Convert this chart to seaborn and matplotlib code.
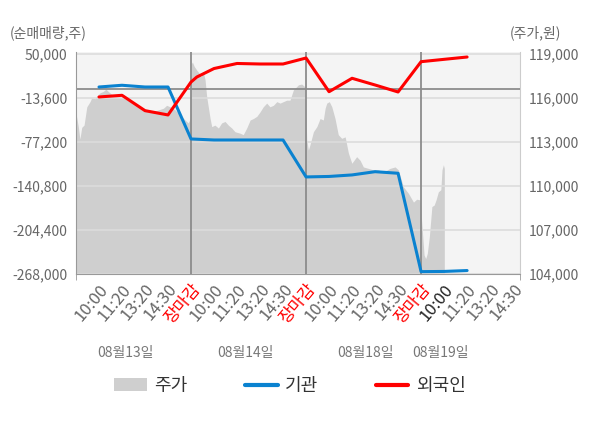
import matplotlib
matplotlib.use('Agg')
import matplotlib.pyplot as plt
import matplotlib.transforms as mtransforms
from matplotlib.patches import Patch
from matplotlib.lines import Line2D
import seaborn as sns

# 주가 (원) - 하루 = 5칸, 0~5 / 5~10 / 10~15 / 15~
price_pos = [0.00, 0.10, 0.17, 0.25, 0.35, 0.47, 0.61, 0.68, 0.83, 0.90,
             1.04, 1.19, 1.30, 1.40, 1.55, 1.77, 2.06, 2.35, 2.64, 2.93,
             3.22, 3.51, 3.80, 3.94, 4.09, 4.30, 4.52, 4.74, 4.88, 4.98,
             5.02, 5.06, 5.14, 5.25, 5.35, 5.43, 5.53, 5.61, 5.68, 5.75,
             5.83, 5.90, 6.04, 6.19, 6.33, 6.48, 6.62, 6.77, 6.91,
             7.13, 7.27, 7.42, 7.57, 7.71, 7.86,
             8.00, 8.14, 8.29, 8.43, 8.58, 8.73, 8.87,
             9.01, 9.16, 9.30, 9.45, 9.67, 9.81, 9.96,
             10.03, 10.10, 10.17, 10.32, 10.47, 10.61, 10.75, 10.83, 10.90,
             11.01, 11.12, 11.26, 11.40, 11.55, 11.70, 11.84, 11.99,
             12.20, 12.35, 12.49, 12.71, 12.93,
             13.14, 13.36, 13.65, 13.87,
             14.01, 14.23, 14.45, 14.67, 14.81, 14.96,
             15.04, 15.13, 15.20, 15.27, 15.36, 15.47, 15.57, 15.65, 15.75,
             15.86, 15.91, 15.97, 16.01]
price_val = [114950, 114050, 113200, 114000, 114150, 115400, 115750, 116000, 115950, 116100,
             116350, 116450, 116600, 116450, 116250, 116100, 116000, 115750, 115500, 115300,
             115050, 115150, 115300, 115500, 115400, 115200, 114850, 114500, 114300, 114650,
             118350, 118450, 118150, 117900, 117700, 117450, 117800, 117250, 116100, 115400,
             114600, 114050, 114150, 113950, 114300, 114400, 114150, 113950, 113700,
             113600, 113500, 113950, 114500, 114600, 114750,
             115050, 115400, 115650, 115400, 115500, 115750, 115650,
             115750, 115850, 115850, 116550, 116900, 116950, 116750,
             113150, 112450, 112800, 113700, 114050, 114600, 114500, 115300, 115650,
             115750, 115400, 114600, 113500, 113250, 113350, 112250, 111550,
             112000, 111750, 111300, 111200, 111100,
             111100, 110950, 111200, 111300,
             111100, 109950, 109500, 108900, 109100, 109050,
             107250, 105300, 105050, 105400, 106550, 108600, 108700, 109050, 109600,
             109750, 111100, 111450, 111200]

# 순매매량 누적 (주)
foreign_pos = [1, 2, 3, 4, 5, 5.25, 6, 7, 8, 9, 10, 11, 12, 13, 14, 15, 16, 17]
foreign_val = [-12100, -9700, -31900, -38100, 9500, 16700, 29000, 36300, 35550, 35550,
               44200, -4500, 14900, 5200, -4900, 38900, 42300, 45650]
inst_pos = [1, 2, 3, 4, 5, 6, 7, 8, 9, 10, 11, 12, 13, 14, 15, 16, 17]
inst_val = [2300, 4800, 2300, 2300, -72800, -74300, -74300, -74300, -74300,
            -127700, -127000, -124800, -120100, -122400, -264600, -264300, -263000]

tick_pos = list(range(1, 20))
tick_labels = ['10:00', '11:20', '13:20', '14:30', '장마감'] * 3 + ['10:00', '11:20', '13:20', '14:30']
day_edges = [5, 10, 15]
dates = ['08월13일', '08월14일', '08월18일', '08월19일']
date_pos = [2.13, 7.35, 12.57, 15.83]

left_ticks = [50000, -13600, -77200, -140800, -204400, -268000]
right_ticks = [119000, 116000, 113000, 110000, 107000, 104000]

sns.set_style('white')
plt.rcParams['font.family'] = ['Noto Sans CJK KR', 'DejaVu Sans']

blue = '#0a82d0'
red = '#ff0000'

fig = plt.figure(figsize=(6, 4.28), dpi=100)
ax = fig.add_axes([76 / 600, 1 - 274 / 428, 444 / 600, 222 / 428])
ax2 = ax.twinx()
ax.set_zorder(ax2.get_zorder() + 1)
ax.patch.set_visible(False)
ax2.patch.set_visible(True)
ax2.set_facecolor('#f4f4f4')

# 주가 영역
ax2.fill_between(price_pos, price_val, 100000, color='#cfcfcf', lw=0)
ax2.set_ylim(104000, 119136)
ax2.set_yticks(right_ticks)
ax2.set_yticklabels([f'{v:,}' for v in right_ticks])
ax2.tick_params(axis='y', length=0, labelsize=10, labelcolor='#666666', pad=6)

# 기관 / 외국인
ax.grid(axis='y', color='#dcdcdc', lw=1.2)
ax.set_axisbelow(True)
ax.axhline(0, color='#8c8c8c', lw=1.3, zorder=1.5)
for e in day_edges:
    ax.axvline(e, color='#8c8c8c', lw=1.3, zorder=1.5)
sns.lineplot(x=inst_pos, y=inst_val, ax=ax, color=blue, lw=2.2)
sns.lineplot(x=foreign_pos, y=foreign_val, ax=ax, color=red, lw=2.2)

ax.set_xlim(0, 19.3)
ax.set_ylim(-268000, 52891)
ax.set_yticks(left_ticks)
ax.set_yticklabels([f'{v:,}' for v in left_ticks])
ax.tick_params(axis='y', length=0, labelsize=10, labelcolor='#666666', pad=6)

ax.set_xticks(tick_pos)
ax.set_xticklabels(tick_labels, rotation=50, ha='right', va='top', rotation_mode='anchor')
ax.set_xticks([0, 5, 10, 15, 19.3], minor=True)
ax.tick_params(axis='x', which='major', length=0, labelsize=12, pad=5)
ax.tick_params(axis='x', which='minor', length=4, color='#999999', bottom=True)
for i, lbl in enumerate(ax.get_xticklabels()):
    if tick_labels[i] == '장마감':
        lbl.set_color(red)
    elif i == 15:
        lbl.set_color('#222222')
    else:
        lbl.set_color('#666666')

for a in (ax, ax2):
    a.spines['top'].set_visible(False)
ax.spines['right'].set_visible(False)
ax2.spines['left'].set_visible(False)
ax2.spines['bottom'].set_visible(False)
ax.spines['left'].set_color('#999999')
ax.spines['bottom'].set_color('#999999')
ax2.spines['right'].set_color('#cccccc')
ax.set_xlabel('')
ax.set_ylabel('')

trans = mtransforms.blended_transform_factory(ax.transData, ax.transAxes)
for p, d in zip(date_pos, dates):
    ax.text(p, -0.356, d, transform=trans, ha='center', va='center', fontsize=10, color='#777777')

fig.text(10 / 600, 1 - 33 / 428, '(순매매량,주)', ha='left', va='center', fontsize=10, color='#666666')
fig.text(510 / 600, 1 - 33 / 428, '(주가,원)', ha='left', va='center', fontsize=10, color='#666666')

handles = [Patch(facecolor='#cfcfcf', edgecolor='none'),
           Line2D([], [], color=blue, lw=3),
           Line2D([], [], color=red, lw=3)]
fig.legend(handles, ['주가', '기관', '외국인'], loc='center', bbox_to_anchor=(290 / 600, 1 - 386 / 428),
           ncol=3, frameon=False, fontsize=13, handlelength=1.8, handletextpad=0.4,
           columnspacing=3.2, labelcolor='#333333')

fig.savefig('out.png', dpi=100)
